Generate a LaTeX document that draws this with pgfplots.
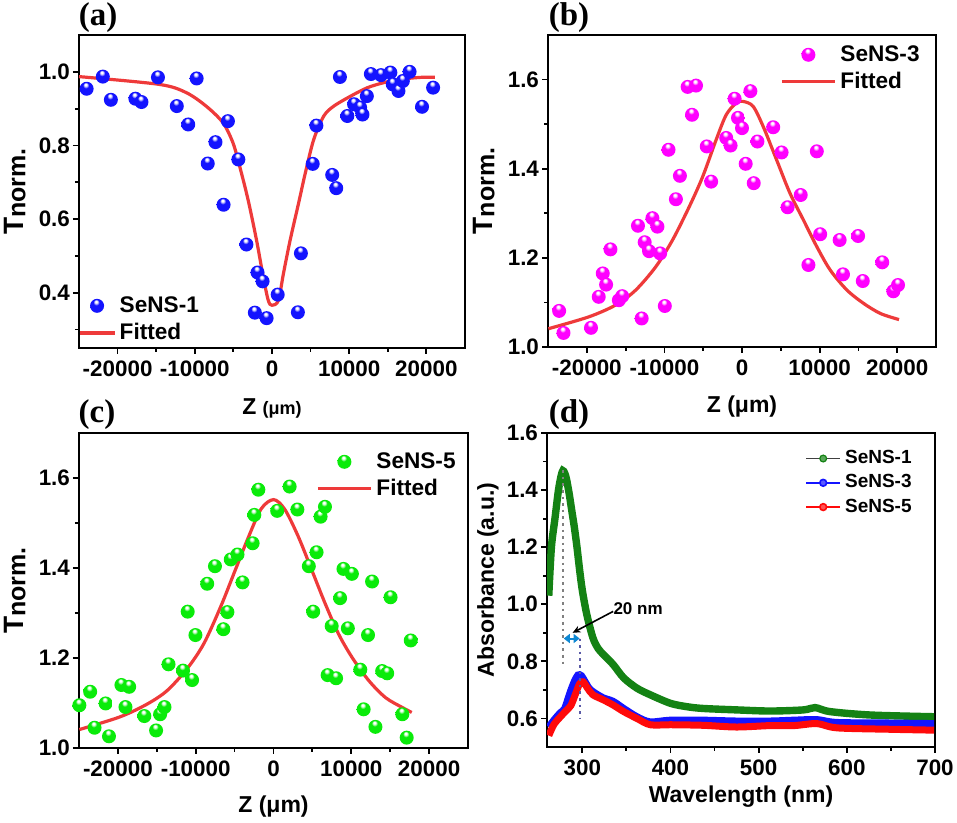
\documentclass[border=0pt]{standalone}
\usepackage{fontspec}
\setmainfont{Liberation Sans}
\newfontfamily\serifb{Liberation Serif}
\usepackage{pgfplots}
\pgfplotsset{compat=1.18}
\usetikzlibrary{arrows.meta}
\definecolor{ballblue}{RGB}{20,20,255}
\definecolor{ballmag}{RGB}{255,0,255}
\definecolor{ballgreen}{RGB}{10,235,10}
\definecolor{fitred}{RGB}{238,58,58}
\definecolor{dgreen}{RGB}{20,130,20}
\definecolor{abblue}{RGB}{20,20,255}
\definecolor{abred}{RGB}{255,10,10}

\pgfdeclareradialshading{blueball}{\pgfqpoint{-4bp}{16bp}}{color(0bp)=(white); color(4bp)=(white); color(11bp)=(ballblue); color(32bp)=(ballblue); color(45bp)=(ballblue!85!black); color(50bp)=(ballblue!70!black)}
\pgfdeclareradialshading{magball}{\pgfqpoint{-4bp}{16bp}}{color(0bp)=(white); color(4bp)=(white); color(11bp)=(ballmag); color(32bp)=(ballmag); color(45bp)=(ballmag!88!black); color(50bp)=(ballmag!75!black)}
\pgfdeclareradialshading{greenball}{\pgfqpoint{-4bp}{16bp}}{color(0bp)=(white); color(4bp)=(white); color(11bp)=(ballgreen); color(32bp)=(ballgreen); color(45bp)=(ballgreen!88!black); color(50bp)=(ballgreen!75!black)}
\pgfdeclareplotmark{bball}{\pgfpathcircle{\pgfpointorigin}{\pgfplotmarksize}\pgfshadepath{blueball}{0}\pgfusepath{}}
\pgfdeclareplotmark{mball}{\pgfpathcircle{\pgfpointorigin}{\pgfplotmarksize}\pgfshadepath{magball}{0}\pgfusepath{}}
\pgfdeclareplotmark{gball}{\pgfpathcircle{\pgfpointorigin}{\pgfplotmarksize}\pgfshadepath{greenball}{0}\pgfusepath{}}

\pgfplotsset{
  panel/.style={
    scale only axis, anchor=south west,
    axis line style={line width=1.3pt},
    every tick/.style={black, line width=0.9pt},
    tick align=outside, xtick pos=left, ytick pos=left,
    major tick length=3pt, minor tick length=2pt,
    tick label style={font=\bfseries\fontsize{11.2}{12}\selectfont},
    yticklabel style={xshift=2pt},
    label style={font=\bfseries\fontsize{11.5}{13}\selectfont},
    scaled ticks=false,
    legend cell align=left,
  },
  zaxis/.style={
    xmin=-25000, xmax=25000,
    xtick={-20000,-10000,0,10000,20000},
    xticklabels={-20000,-10000,0,10000,20000},
    minor xtick={-15000,-5000,5000,15000},
  },
  ballleg/.style={legend image code/.code={
    \draw[mark repeat=2,mark phase=2,##1] plot coordinates {(0cm,0cm)(0.465cm,0cm)(0.93cm,0cm)};}},
  lineleg/.style={legend image code/.code={\draw[##1] (0cm,0cm) -- (0.93cm,0cm);}},
}
\newcommand{\Tnorm}{{\fontsize{14}{14}\selectfont T}\raisebox{-0.8pt}{\fontsize{12.5}{13}\selectfont norm.}}

\begin{document}
\begin{tikzpicture}
\useasboundingbox (0,0) rectangle (478.5pt,411.5pt);

% ---------------- (a)
\begin{axis}[panel, zaxis, at={(39.5pt,237.5pt)}, width=193pt, height=156.5pt,
  ymin=0.25, ymax=1.1,
  ytick={0.4,0.6,0.8,1.0}, yticklabels={0.4,0.6,0.8,1.0},
  minor ytick={0.3,0.5,0.7,0.9},
  xlabel={Z {\fontsize{9}{10}\selectfont(μm)}},
  xlabel style={at={([yshift=-33.5pt]rel axis cs:0.5,0)}, anchor=base},
  ylabel={\Tnorm},
  ylabel style={at={([xshift=-32pt]rel axis cs:0,0.5)}, anchor=center},
  legend style={draw=none, fill=none, at={(0,0)}, anchor=south west, xshift=-3.5pt, yshift=-1.5pt,
    font=\bfseries\fontsize{11.3}{12}\selectfont},
]
\addplot[only marks, mark=bball, mark size=3.5pt] coordinates {
(-24009,0.954) (-21917,0.987) (-20871,0.924) (-17691,0.927) (-16906,0.918)
(-14771,0.985) (-12331,0.907) (-10850,0.857) (-9760,0.982) (-7320,0.809)
(-8322,0.751) (-5708,0.866) (-6274,0.639) (-4357,0.762) (-3311,0.531)
(-1874,0.455) (-1220,0.431) (-2222,0.346) (-697,0.331) (741,0.395)
(3355,0.347) (3747,0.507) (5272,0.750) (5752,0.854) (7800,0.720)
(8322,0.684) (8801,0.986) (9760,0.880) (10632,0.912) (11416,0.903)
(11721,0.884) (12288,0.934) (12810,0.994) (14118,0.991) (15338,0.998)
(15643,0.966) (16383,0.948) (16950,0.975) (17822,1.000) (19434,0.905)
(20871,0.957)};
\addlegendentry{SeNS-1}
\addplot[fitred, line width=1.6pt, smooth] coordinates {
(-25000,0.987) (-14640,0.966) (-11154,0.944) (-8540,0.907) (-6361,0.862)
(-5054,0.807) (-4183,0.743) (-3094,0.652) (-2004,0.543) (-1133,0.443)
(-479,0.379) (0,0.366) (828,0.379) (1481,0.452) (2353,0.543) (3442,0.643)
(4314,0.725) (5403,0.816) (6710,0.880) (8017,0.907) (10196,0.934)
(12375,0.957) (14553,0.971) (16732,0.980) (19346,0.985) (21089,0.985)};
\addlegendentry{Fitted}
\end{axis}

% ---------------- (b)
\begin{axis}[panel, zaxis, at={(274pt,238pt)}, width=194pt, height=156pt,
  ymin=1.0, ymax=1.7,
  ytick={1.0,1.2,1.4,1.6}, yticklabels={1.0,1.2,1.4,1.6},
  minor ytick={1.1,1.3,1.5},
  xlabel={Z (μm)},
  xlabel style={at={([yshift=-33pt]rel axis cs:0.5,0)}, anchor=base},
  ylabel={\Tnorm},
  ylabel style={at={([xshift=-32pt]rel axis cs:0,0.5)}, anchor=center},
  legend style={draw=none, fill=none, at={(1,1)}, anchor=north east, xshift=-3pt, yshift=-1pt,
    font=\bfseries\fontsize{11.3}{12}\selectfont},
]
\addplot[only marks, mark=mball, mark size=3.5pt, ballleg] coordinates {
(-23566,1.081) (-23004,1.0315) (-19458,1.043) (-18463,1.1125) (-17945,1.165)
(-17512,1.140) (-16950,1.219) (-15869,1.105) (-15437,1.114) (-13404,1.272)
(-12929,1.064) (-12540,1.235) (-11978,1.215) (-11545,1.289) (-10896,1.270)
(-10550,1.21) (-9945,1.092) (-9470,1.4425) (-8518,1.3315) (-8000,1.384)
(-7005,1.5835) (-6443,1.521) (-5924,1.5865) (-4540,1.45) (-3978,1.371)
(-2032,1.469) (-1470,1.452) (-951,1.557) (-519,1.514) (0,1.491)
(476,1.411) (1081,1.574) (1513,1.3675) (1989,1.461) (4021,1.493)
(5102,1.4365) (5881,1.3135) (7567,1.341) (8561,1.184) (9643,1.439)
(10075,1.253) (12583,1.24) (13015,1.163) (14961,1.249) (15566,1.148)
(18074,1.190) (19501,1.125) (20107,1.139)};
\addlegendentry{SeNS-3}
\addplot[fitred, line width=1.6pt, smooth, lineleg] coordinates {
(-24949,1.041) (-19761,1.0675) (-16302,1.094) (-13708,1.1275) (-11113,1.18)
(-8951,1.24) (-6789,1.315) (-5059,1.3825) (-3330,1.465) (-2032,1.521)
(-735,1.5475) (130,1.551) (1427,1.54) (2724,1.495) (4454,1.42)
(6183,1.345) (7913,1.285) (9643,1.225) (11372,1.1725) (13534,1.1275)
(15696,1.0975) (17858,1.075) (20236,1.0615)};
\addlegendentry{Fitted}
\end{axis}

% ---------------- (c)
\begin{axis}[panel, zaxis, at={(39.5pt,37.5pt)}, width=194.5pt, height=157.5pt,
  ymin=1.0, ymax=1.7,
  ytick={1.0,1.2,1.4,1.6}, yticklabels={1.0,1.2,1.4,1.6},
  minor ytick={1.1,1.3,1.5},
  xlabel={Z (μm)},
  xlabel style={at={([yshift=-32.5pt]rel axis cs:0.5,0)}, anchor=base},
  ylabel={\Tnorm},
  ylabel style={at={([xshift=-32pt]rel axis cs:0,0.5)}, anchor=center},
  legend style={draw=none, fill=none, at={(1,1)}, anchor=north east, xshift=-1pt, yshift=-5.5pt,
    font=\bfseries\fontsize{11.3}{12}\selectfont},
]
\addplot[only marks, mark=gball, mark size=3.5pt, ballleg] coordinates {
(-24949,1.095) (-23566,1.125) (-23004,1.045) (-21577,1.099) (-21145,1.026)
(-19545,1.140) (-19026,1.091) (-18550,1.136) (-16604,1.071) (-15091,1.039)
(-14572,1.075) (-14010,1.091) (-13491,1.186) (-11632,1.172) (-11026,1.303)
(-10464,1.151) (-10032,1.251) (-8518,1.365) (-7524,1.404) (-6443,1.264)
(-5924,1.302) (-5492,1.419) (-4627,1.43) (-3978,1.368) (-2681,1.455)
(-2465,1.518) (-1946,1.574) (476,1.527) (2076,1.581) (3070,1.530)
(4540,1.404) (5102,1.303) (5535,1.435) (6054,1.514) (6616,1.536)
(6962,1.162) (7481,1.271) (8043,1.155) (8561,1.333) (8994,1.398)
(9556,1.266) (10075,1.387) (11156,1.174) (11588,1.086) (12150,1.251)
(12669,1.370) (13102,1.047) (13967,1.171) (14615,1.166) (15048,1.335)
(16561,1.075) (17123,1.023) (17642,1.239)};
\addlegendentry{SeNS-5}
\addplot[fitred, line width=1.6pt, smooth, lineleg] coordinates {
(-24949,1.041) (-19761,1.069) (-16302,1.097) (-13708,1.127) (-11113,1.176)
(-8951,1.232) (-6789,1.314) (-5059,1.389) (-3330,1.464) (-1600,1.531)
(0,1.552) (1427,1.531) (3157,1.471) (4886,1.397) (6616,1.322)
(8345,1.254) (10075,1.202) (12237,1.150) (14399,1.112) (16561,1.090)
(17772,1.079)};
\addlegendentry{Fitted}
\end{axis}

% ---------------- (d)
\begin{axis}[panel, at={(273.5pt,38pt)}, width=194pt, height=157pt,
  xmin=260, xmax=700, ymin=0.5, ymax=1.6,
  xtick={300,400,500,600,700}, xticklabels={300,400,500,600,700},
  minor xtick={350,450,550,650},
  ytick={0.6,0.8,1.0,1.2,1.4,1.6}, yticklabels={0.6,0.8,1.0,1.2,1.4,1.6},
  minor ytick={0.7,0.9,1.1,1.3,1.5},
  xlabel={Wavelength (nm)},
  xlabel style={at={([yshift=-27.5pt]rel axis cs:0.5,0)}, anchor=base},
  ylabel={Absorbance (a.u.)},
  ylabel style={at={([xshift=-29.5pt,yshift=5pt]rel axis cs:0,0.5)}, anchor=center},
  legend style={draw=none, fill=none, at={(1,1)}, anchor=north east, xshift=-6.5pt, yshift=-4.5pt,
    font=\bfseries\fontsize{9.5}{10}\selectfont},
]
\addplot[dgreen, line width=3.7pt, smooth, forget plot] coordinates {
(262,1.03) (265,1.20) (269,1.30) (273,1.40) (276,1.45) (278,1.468) (280,1.46)
(282,1.44) (285,1.39) (288,1.33) (291,1.27) (294,1.20) (297,1.12) (300,1.05)
(305,0.966) (312,0.883) (318,0.845) (324,0.824) (335,0.789) (347,0.742)
(362,0.706) (377,0.683) (400,0.653) (419,0.641) (437,0.635) (475,0.630)
(513,0.626) (551,0.630) (564,0.638) (581,0.624) (627,0.612) (699,0.606)};
\addplot[abblue, line width=3.5pt, smooth, forget plot] coordinates {
(262,0.57) (268,0.595) (275,0.62) (280,0.635) (286,0.69) (291,0.73) (295,0.752)
(299,0.75) (303,0.73) (308,0.705) (314,0.69) (324,0.672) (335,0.66) (347,0.635)
(362,0.606) (377,0.588) (400,0.594) (437,0.594) (475,0.591) (513,0.591)
(540,0.594) (566,0.596) (589,0.586) (650,0.584) (699,0.582)};
\addplot[abred, line width=3.5pt, smooth, forget plot] coordinates {
(262,0.54) (268,0.58) (275,0.605) (281,0.625) (287,0.645) (292,0.683) (297,0.722)
(301,0.728) (306,0.706) (312,0.683) (324,0.665) (335,0.647) (347,0.624)
(362,0.6) (377,0.578) (400,0.578) (437,0.576) (475,0.570) (513,0.575)
(540,0.575) (566,0.582) (589,0.567) (650,0.562) (699,0.559)};
\addlegendimage{black!75, line width=0.6pt, mark=*, mark size=1.7pt, mark options={draw=dgreen, fill=dgreen!70!white}}
\addlegendentry{SeNS-1}
\addlegendimage{abblue, line width=0.8pt, mark=*, mark size=1.7pt, mark options={draw=abblue, fill=abblue!70!white}}
\addlegendentry{SeNS-3}
\addlegendimage{abred, line width=0.8pt, mark=*, mark size=1.7pt, mark options={draw=abred, fill=abred!70!white}}
\addlegendentry{SeNS-5}
\draw[gray, dotted, line width=1.3pt] (axis cs:278,1.47) -- (axis cs:278,0.78);
\draw[gray!70!blue, dotted, line width=1.3pt] (axis cs:297.5,0.88) -- (axis cs:297.5,0.60);
\draw[cyan!70!blue, line width=1pt, {Triangle[length=3pt,width=4.5pt]}-{Triangle[length=3pt,width=4.5pt]}] (axis cs:279,0.88) -- (axis cs:297,0.88);
\draw[black, line width=0.8pt, -{Stealth[length=4pt,width=3.5pt]}] (axis cs:335,0.975) -- (axis cs:289,0.90);
\node[anchor=west, font=\bfseries\fontsize{8.5}{9}\selectfont, inner sep=0pt] at (axis cs:335,0.985) {20 nm};
\end{axis}

% panel labels
\node[font=\serifb\bfseries\fontsize{16.5}{18}\selectfont] at (49pt,402.5pt) {(a)};
\node[font=\serifb\bfseries\fontsize{16.5}{18}\selectfont] at (284.5pt,402.5pt) {(b)};
\node[font=\serifb\bfseries\fontsize{16.5}{18}\selectfont] at (48.5pt,204pt) {(c)};
\node[font=\serifb\bfseries\fontsize{16.5}{18}\selectfont] at (284.5pt,204pt) {(d)};
\end{tikzpicture}
\end{document}
